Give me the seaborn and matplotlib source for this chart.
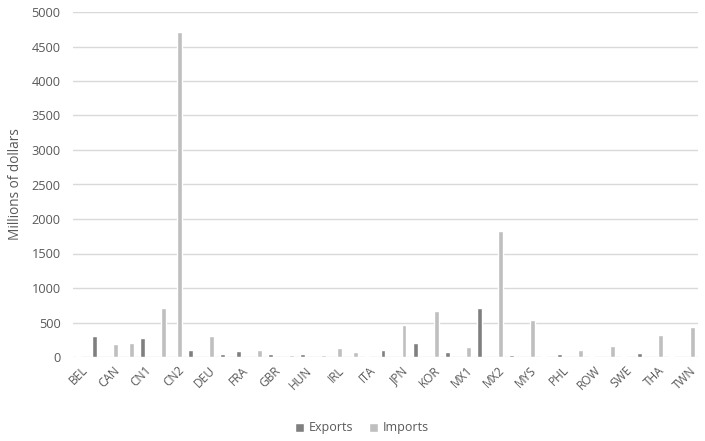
import numpy as np
import pandas as pd
import matplotlib
matplotlib.use("Agg")
import matplotlib.pyplot as plt
import seaborn as sns

# Visible category labels (every second category is labelled on the axis)
labels = ["BEL", "CAN", "CN1", "CN2", "DEU", "FRA", "GBR", "HUN", "IRL", "ITA",
          "JPN", "KOR", "MX1", "MX2", "MYS", "PHL", "ROW", "SWE", "THA", "TWN"]

# Values for the 39 category slots (millions of dollars)
exports = [10, 305, 0, 0, 278, 0, 0, 102, 0, 40,
           88, 0, 40, 0, 38, 0, 0, 0, 18, 98,
           0, 205, 0, 70, 0, 708, 0, 22, 0, 10,
           38, 0, 18, 0, 10, 55, 0, 10, 0]
imports = [0, 0, 188, 200, 0, 705, 4705, 0, 298, 0,
           0, 98, 0, 36, 0, 36, 125, 70, 0, 0,
           470, 0, 660, 0, 148, 0, 1822, 0, 533, 0,
           0, 108, 0, 158, 0, 0, 318, 0, 432]

series = ["Exports", "Imports"]
colors = ["#7F7F7F", "#BFBFBF"]

n = len(exports)
df = pd.DataFrame({
    "slot": list(range(n)) * 2,
    "value": exports + imports,
    "flow": [series[0]] * n + [series[1]] * n,
})

sns.set_theme(style="white")
plt.rcParams["font.family"] = ["Open Sans", "DejaVu Sans"]

fig = plt.figure(figsize=(7.05, 4.41), dpi=100)
ax = fig.add_axes([73 / 705, 1 - 357 / 441, 625 / 705, 345 / 441])

sns.barplot(data=df, x="slot", y="value", hue="flow", order=list(range(n)),
            hue_order=series, palette=colors, width=0.62, ax=ax,
            saturation=1, legend=True)

ax.set_ylim(0, 5000)
ax.set_yticks(np.arange(0, 5001, 500))
ax.yaxis.grid(True, color="#D9D9D9", linewidth=1)
ax.set_axisbelow(True)
for s in ax.spines.values():
    s.set_visible(False)

ax.set_xticks(list(range(0, n, 2)))
ax.set_xticklabels(labels, rotation=45, ha="right", rotation_mode="anchor",
                   fontsize=8.6, color="#595959")
ax.tick_params(axis="y", labelsize=9.2, colors="#595959", length=0, pad=9)
ax.tick_params(axis="x", length=0, pad=5)
ax.set_xlabel("")
ax.set_ylabel("Millions of dollars", fontsize=9.8, color="#595959", labelpad=6)

leg = ax.legend(loc="center", bbox_to_anchor=(362 / 705, 1 - 428 / 441),
                bbox_transform=fig.transFigure, ncol=2, frameon=False,
                fontsize=9.0, handlelength=0.7, handleheight=0.7,
                handletextpad=0.4, columnspacing=1.3)
for t in leg.get_texts():
    t.set_color("#595959")

fig.savefig("out.png", dpi=100)
